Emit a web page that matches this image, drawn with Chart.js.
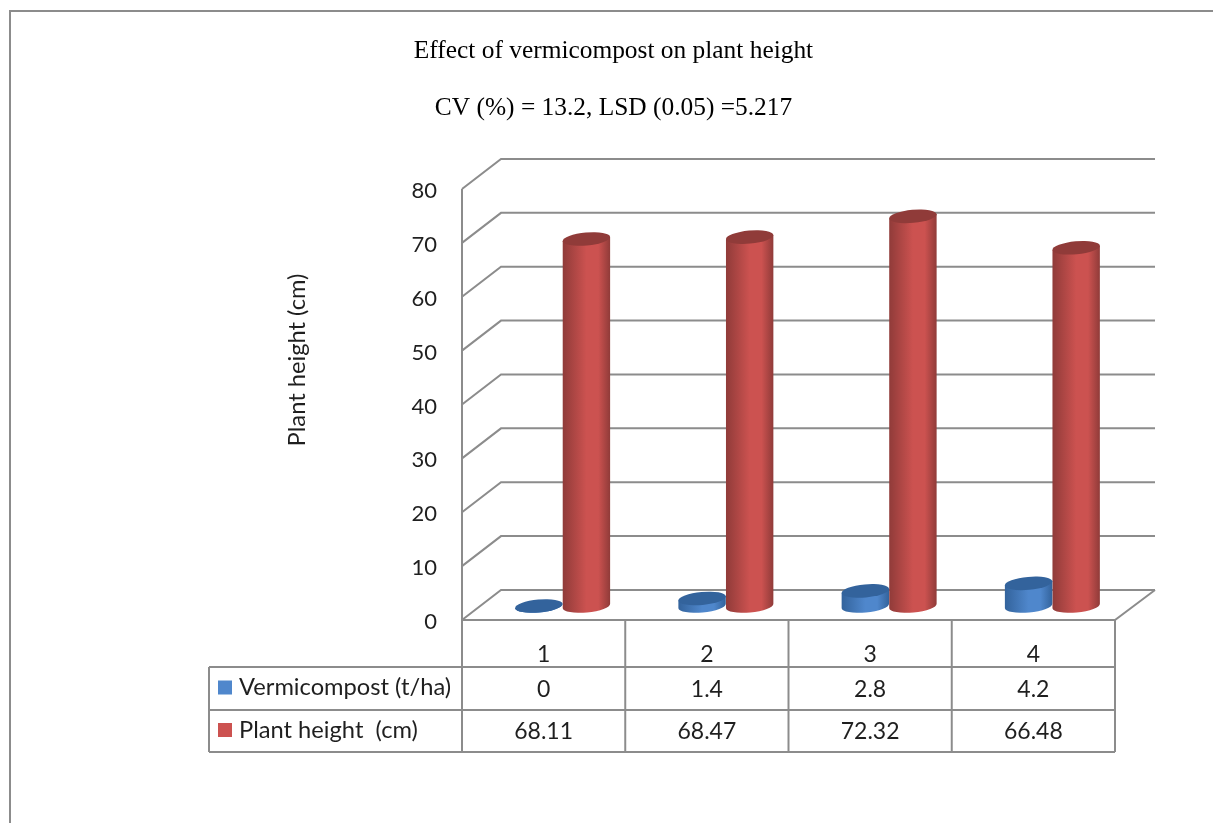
<!DOCTYPE html>
<html>
<head>
<meta charset="utf-8">
<title>Effect of vermicompost on plant height</title>
<script src="https://cdn.jsdelivr.net/npm/chart.js@4/dist/chart.umd.js"></script>
<style>
    html, body { margin: 0; padding: 0; background: #fff; overflow: hidden; }
    canvas { display: block; }
</style>
</head>
<body>
<canvas id="plantChart" width="1213" height="823"></canvas>
<script>
const categories = ['1', '2', '3', '4'];
const vermicompost = [0, 1.4, 2.8, 4.2];
const plantHeight = [68.11, 68.47, 72.32, 66.48];
const seriesNames = ['Vermicompost (t/ha)', 'Plant height  (cm)'];
const titleText = 'Effect of vermicompost on plant height';
const subtitleText = 'CV (%) = 13.2, LSD (0.05) =5.217';
const axisTitle = 'Plant height (cm)';

const lineColor = '#8c8c8c';
const textColor = '#1f1f1f';

// how far the 3D floor is pushed back
const wallX = 39;
const wallY = -30;
const barShiftX = 19;
const barShiftY = -14;

class CylinderElement extends Chart.BarElement {
    static id = 'cylinder';

    draw(ctx) {
        const { x, y, base, width } = this.getProps(['x', 'y', 'base', 'width']);
        const cx = x + barShiftX;
        const top = y + barShiftY;
        const bottom = base + barShiftY;
        const rx = width / 2;
        const ry = 6.5;
        const tilt = -0.09;
        const dx = rx * Math.cos(tilt);
        const dy = rx * Math.sin(tilt);

        const gradient = ctx.createLinearGradient(cx - dx, 0, cx + dx, 0);
        gradient.addColorStop(0, this.options.borderColor);
        gradient.addColorStop(0.5, this.options.backgroundColor);
        gradient.addColorStop(0.75, this.options.backgroundColor);
        gradient.addColorStop(1, this.options.borderColor);

        ctx.save();
        ctx.fillStyle = gradient;
        ctx.beginPath();
        ctx.moveTo(cx - dx, top - dy);
        ctx.lineTo(cx - dx, bottom - dy);
        ctx.ellipse(cx, bottom, rx, ry, tilt, Math.PI, 0, true);
        ctx.lineTo(cx + dx, top + dy);
        ctx.closePath();
        ctx.fill();

        ctx.fillStyle = this.options.borderColor;
        ctx.beginPath();
        ctx.ellipse(cx, top, rx, ry, tilt, 0, Math.PI * 2);
        ctx.fill();
        ctx.restore();
    }
}

class CylinderController extends Chart.BarController {
    static id = 'cylinder';
    static defaults = {
        datasetElementType: false,
        dataElementType: 'cylinder'
    };
}

Chart.register(CylinderElement, CylinderController);

function line(ctx, points) {
    ctx.beginPath();
    points.forEach((p, i) => i ? ctx.lineTo(p[0], p[1]) : ctx.moveTo(p[0], p[1]));
    ctx.stroke();
}

const wallsAndTable = {
    id: 'wallsAndTable',
    beforeDatasetsDraw(chart) {
        const ctx = chart.ctx;
        const { left, right, bottom, top } = chart.chartArea;
        const yScale = chart.scales.y;
        const xScale = chart.scales.x;

        ctx.save();
        ctx.strokeStyle = lineColor;
        ctx.lineWidth = 2;

        // outer frame
        line(ctx, [[10, 823], [10, 11], [1213, 11]]);

        // back wall lines, one per tick
        yScale.ticks.forEach(tick => {
            const py = yScale.getPixelForValue(tick.value);
            line(ctx, [[left, py], [left + wallX, py + wallY], [right + wallX + 1, py + wallY]]);
        });
        line(ctx, [[left, top], [left, bottom], [right, bottom], [right + wallX + 1, bottom + wallY]]);

        // data table under the plot
        const rows = [667, 710, 752];
        const tableLeft = 209;
        const catWidth = (right - left) / categories.length;
        rows.forEach(r => line(ctx, [[tableLeft, r], [right, r]]));
        line(ctx, [[tableLeft, rows[0]], [tableLeft, rows[2]]]);
        for (let i = 0; i <= categories.length; i++) {
            const vx = left + catWidth * i;
            line(ctx, [[vx, bottom], [vx, rows[2]]]);
        }

        ctx.textBaseline = 'middle';
        chart.data.datasets.forEach((ds, d) => {
            const rowMid = (rows[d] + rows[d + 1]) / 2;
            ctx.fillStyle = ds.backgroundColor;
            ctx.fillRect(218, rowMid - 8, 14, 14);
            ctx.fillStyle = textColor;
            ctx.textAlign = 'left';
            ctx.font = '23.7px Lato';
            ctx.fillText(ds.label, 239, rowMid - 1);
            ctx.textAlign = 'center';
            ctx.font = '23px Lato';
            ds.data.forEach((v, i) => {
                ctx.fillText(String(v), xScale.getPixelForValue(i), rowMid + 1);
            });
        });

        // value axis title sits above the middle of the axis, so it is placed here
        ctx.translate(297, 360);
        ctx.rotate(-Math.PI / 2);
        ctx.font = '23.7px Lato';
        ctx.textAlign = 'center';
        ctx.fillText(axisTitle, 0, 0);
        ctx.restore();
    }
};

new Chart(document.getElementById('plantChart'), {
    type: 'cylinder',
    data: {
        labels: categories,
        datasets: [
            {
                label: seriesNames[0],
                data: vermicompost,
                backgroundColor: '#4f87cc',
                borderColor: '#33639c',
                borderWidth: 0,
                clip: false
            },
            {
                label: seriesNames[1],
                data: plantHeight,
                backgroundColor: '#cc5250',
                borderColor: '#903b39',
                borderWidth: 0,
                clip: false
            }
        ]
    },
    options: {
        responsive: false,
        animation: false,
        categoryPercentage: 0.583,
        barPercentage: 1,
        layout: { padding: { left: 112, right: 98, top: 0, bottom: 0 } },
        plugins: {
            legend: { display: false },
            tooltip: { enabled: false },
            title: {
                display: true,
                text: titleText,
                color: '#000',
                font: { family: 'Liberation Serif', size: 25.4, weight: 'normal' },
                padding: { top: 36, bottom: 18 }
            },
            subtitle: {
                display: true,
                text: subtitleText,
                color: '#000',
                font: { family: 'Liberation Serif', size: 25.4, weight: 'normal' },
                padding: { top: 9, bottom: 65 }
            }
        },
        scales: {
            x: {
                type: 'category',
                offset: true,
                grid: { display: false, drawTicks: false },
                border: { display: false },
                ticks: { color: textColor, font: { family: 'Lato', size: 23 }, padding: 21, maxRotation: 0 },
                afterFit(scale) { scale.height = 203; }
            },
            y: {
                type: 'linear',
                min: 0,
                max: 80,
                grid: { display: false, drawTicks: false },
                border: { display: false },
                ticks: { stepSize: 10, color: textColor, font: { family: 'Lato', size: 22 }, padding: 25, labelOffset: 2 },
                afterFit(scale) { scale.width = 350; }
            }
        }
    },
    plugins: [wallsAndTable]
});
</script>
</body>
</html>
